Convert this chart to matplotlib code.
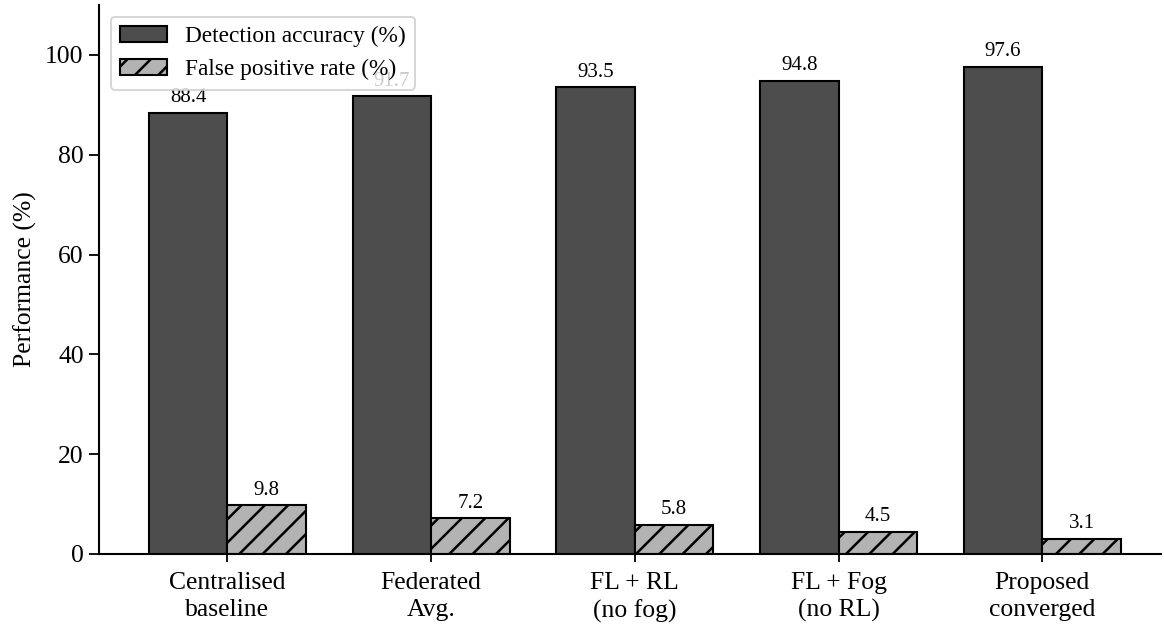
import matplotlib
matplotlib.use("Agg")
import matplotlib.pyplot as plt
import numpy as np

categories = ["Centralised\nbaseline", "Federated\nAvg.", "FL + RL\n(no fog)", "FL + Fog\n(no RL)", "Proposed\nconverged"]
accuracy = [88.4, 91.7, 93.5, 94.8, 97.6]
fpr = [9.8, 7.2, 5.8, 4.5, 3.1]

DPI = 140
k = 100.0 / DPI  # scale sizes specified for 100 dpi

plt.rcParams['font.family'] = ['Liberation Serif', 'DejaVu Serif']
plt.rcParams['hatch.linewidth'] = 1.8 * k

fig, ax = plt.subplots(figsize=(1164 / DPI, 625 / DPI), dpi=DPI)
x = np.arange(len(categories))
w = 0.385
b1 = ax.bar(x - w/2, accuracy, w, color='#4d4d4d', edgecolor='black', linewidth=1.5 * k, label='Detection accuracy (%)')
b2 = ax.bar(x + w/2, fpr, w, color='#b3b3b3', edgecolor='black', linewidth=1.5 * k, hatch='//', label='False positive rate (%)')

for bars, vals in ((b1, accuracy), (b2, fpr)):
    for r, v in zip(bars, vals):
        ax.annotate(f"{v:.1f}", (r.get_x() + r.get_width()/2, r.get_height()),
                    xytext=(0, 4 * k), textcoords='offset points', ha='center', va='bottom', fontsize=15 * k)

ax.set_ylim(0, 110)
ax.set_xlim(-0.63, 4.58)
ax.set_xticks(x)
ax.set_xticklabels(categories, fontsize=18.5 * k, linespacing=1.3)
ax.tick_params(axis='y', labelsize=18.5 * k, width=1.3 * k, length=7 * k, pad=4 * k)
ax.tick_params(axis='x', labelsize=18.5 * k, width=1.3 * k, length=6 * k, pad=7 * k)
ax.set_ylabel("Performance (%)", fontsize=18.5 * k, labelpad=6 * k)
ax.spines['top'].set_visible(False)
ax.spines['right'].set_visible(False)
for s in ('left', 'bottom'):
    ax.spines[s].set_linewidth(1.5 * k)
ax.legend(loc='upper left', fontsize=16.8 * k, framealpha=0.8)
fig.subplots_adjust(left=0.085, right=0.997, bottom=0.1136, top=0.992)
fig.savefig("out.png", dpi=DPI)
